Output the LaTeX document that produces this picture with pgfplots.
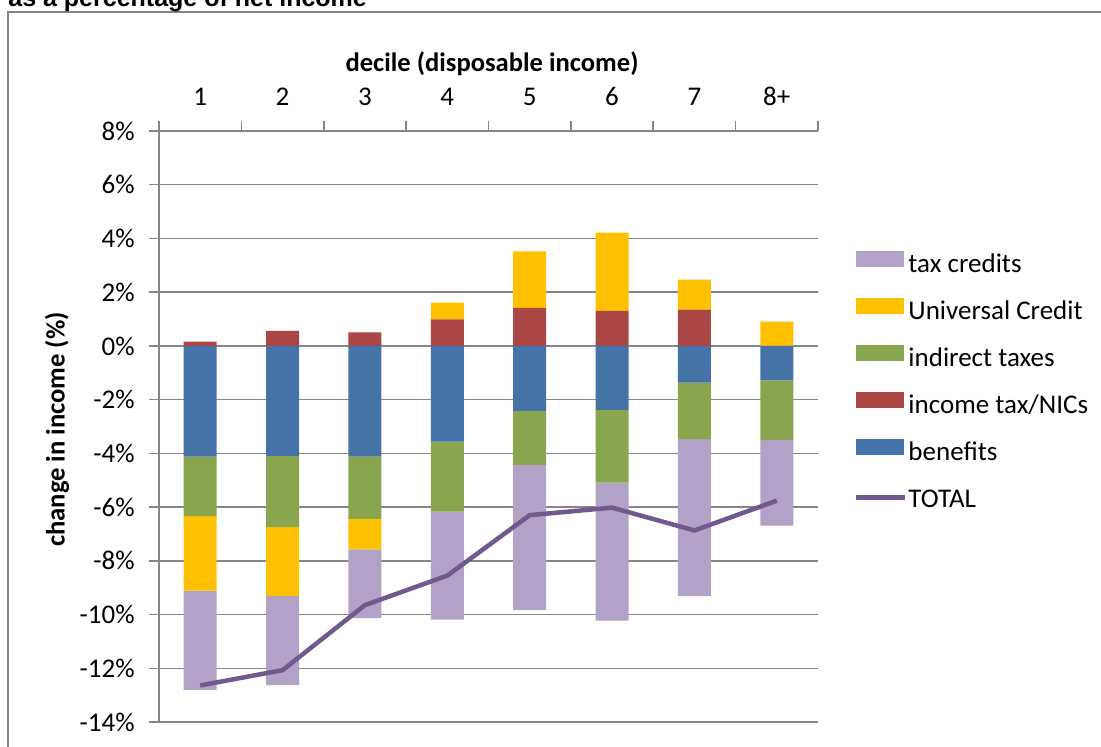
\documentclass[border=0pt]{standalone}
\usepackage{pgfplots}
\pgfplotsset{compat=1.18}
\usepackage{pgfplotstable}
\usepackage{fontspec}
\setmainfont{Carlito}
\newfontfamily\arialfont{Liberation Sans}

\definecolor{benefits}{HTML}{4572A7}
\definecolor{inctax}{HTML}{AA4643}
\definecolor{indirect}{HTML}{89A54E}
\definecolor{ucred}{HTML}{FFC000}
\definecolor{taxcred}{HTML}{B3A2C7}
\definecolor{totalline}{HTML}{71588F}
\definecolor{gridgray}{HTML}{868686}

% negatives stack down from 0 and positives up from 0 (stack negative=separate)
\pgfplotstableread{
decile benefits inctax indirect uc taxcred total
1 -4.12 0.16 -2.22 -2.77 -3.69 -12.64
2 -4.09 0.56 -2.66 -2.56 -3.32 -12.07
3 -4.12 0.50 -2.32 -1.13 -2.56 -9.65
4 -3.56 0.99 -2.61 0.62 -4.02 -8.55
5 -2.42 1.42 -2.01 2.10 -5.41 -6.30
6 -2.38 1.30 -2.71 2.92 -5.14 -6.02
7 -1.37 1.35 -2.10 1.12 -5.84 -6.87
8 -1.28 0.00 -2.22 0.90 -3.19 -5.76
}\budget

\pgfplotsset{
  frame/.style={
    at={(79.5pt,-361pt)}, anchor=south west,
    scale only axis, width=329.5pt, height=295.5pt,
    xmin=0.5, xmax=8.5, ymin=-14, ymax=8,
  },
}

\begin{document}
\begin{tikzpicture}
  \draw[gridgray, line width=1pt] (4pt,-6pt) rectangle (600pt,-450pt);
  \node[anchor=base west, inner sep=0pt, font=\arialfont\bfseries\fontsize{12.5}{15}\selectfont]
    at (4pt,-3.5pt) {as a percentage of net income};

  \begin{axis}[
      frame,
      ybar stacked, stack negative=separate, bar width=16.5pt,
      axis x line*=top, axis y line*=left,
      axis line style={draw=gridgray, line width=0.75pt},
      tick align=outside,
      tick style={draw=gridgray, line width=0.75pt},
      major tick length=5pt, minor tick length=5pt,
      xtick={1,...,8}, xticklabels={1,2,3,4,5,6,7,8+},
      minor xtick={0.5,1.5,...,8.5},
      major x tick style={draw=none},
      ytick={-14,-12,...,8},
      yticklabels={-14\%,-12\%,-10\%,-8\%,-6\%,-4\%,-2\%,0\%,2\%,4\%,6\%,8\%},
      ymajorgrids,
      major grid style={draw=gridgray, line width=0.75pt},
      ticklabel style={font=\fontsize{13.5}{15}\selectfont},
      xticklabel style={anchor=base, yshift=7.65pt},
      yticklabel style={inner sep=0pt, xshift=-7pt},
      every axis x label/.style={at={(axis description cs:0.5053,1.1003)}, anchor=base,
        font=\bfseries\fontsize{13.3}{15}\selectfont},
      every axis y label/.style={at={(axis description cs:-0.1548,0.4949)}, anchor=center,
        rotate=90, font=\bfseries\fontsize{13.3}{15}\selectfont},
      xlabel={decile (disposable income)},
      ylabel={change in income (\%)},
    ]
    \addplot[fill=benefits, draw=none] table[x=decile, y=benefits]{\budget};
    \addplot[fill=inctax, draw=none] table[x=decile, y=inctax]{\budget};
    \addplot[fill=indirect, draw=none] table[x=decile, y=indirect]{\budget};
    \addplot[fill=ucred, draw=none] table[x=decile, y=uc]{\budget};
    \addplot[fill=taxcred, draw=none] table[x=decile, y=taxcred]{\budget};
  \end{axis}

  \begin{axis}[
      frame,
      hide axis,
      legend cell align=left,
      legend style={
        at={(axis description cs:1.0546,0.7975)}, anchor=north west,
        draw=none, fill=none, inner sep=0pt, outer sep=0pt,
        row sep=9.5pt,
        font=\fontsize{13.5}{15}\selectfont,
        nodes={inner sep=0pt, text height=9pt, text depth=3pt},
        /tikz/every odd column/.append style={column sep=0.5pt},
      },
    ]
    \addlegendimage{legend image code/.code={\fill[taxcred] (0pt,0pt) rectangle (23.5pt,7.8pt);}}
    \addlegendentry{tax credits}
    \addlegendimage{legend image code/.code={\fill[ucred] (0pt,0pt) rectangle (23.5pt,7.8pt);}}
    \addlegendentry{Universal Credit}
    \addlegendimage{legend image code/.code={\fill[indirect] (0pt,0pt) rectangle (23.5pt,7.8pt);}}
    \addlegendentry{indirect taxes}
    \addlegendimage{legend image code/.code={\fill[inctax] (0pt,0pt) rectangle (23.5pt,7.8pt);}}
    \addlegendentry{income tax/NICs}
    \addlegendimage{legend image code/.code={\fill[benefits] (0pt,0pt) rectangle (23.5pt,7.8pt);}}
    \addlegendentry{benefits}
    \addplot[color=totalline, line width=2.25pt, mark=none,
      legend image code/.code={\path[draw=none, fill=none] (0pt,0pt) rectangle (1pt,7.8pt);
        \draw[totalline, line width=2.25pt] (0pt,2pt) -- (24.5pt,2pt);}]
      table[x=decile, y=total]{\budget};
    \addlegendentry{TOTAL}
  \end{axis}

  \pgfresetboundingbox
  \useasboundingbox (0pt,0pt) rectangle (550.5pt,-373.5pt);
\end{tikzpicture}
\end{document}
